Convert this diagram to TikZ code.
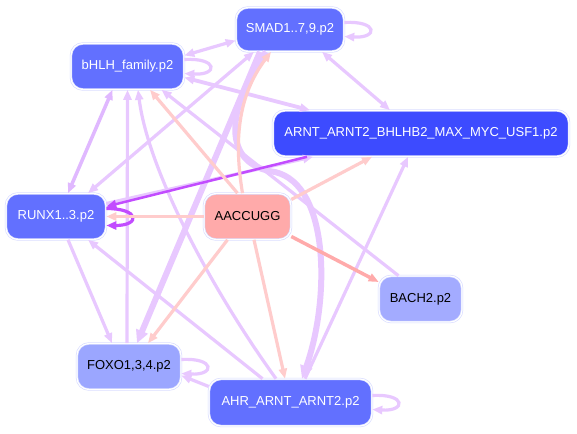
\documentclass[tikz,border=0pt]{standalone}
\usepackage{fontspec}
\setmainfont{Liberation Sans}
\usetikzlibrary{arrows.meta}
\definecolor{tfmid}{HTML}{6270FF}
\definecolor{tfdark}{HTML}{3D4BFF}
\definecolor{tflight}{HTML}{9BA6FF}
\definecolor{tfpale}{HTML}{A3ABFF}
\definecolor{motifc}{HTML}{FFAAAA}
\definecolor{outl}{HTML}{D6DAFF}
\definecolor{lavc}{HTML}{E8C8FF}
\definecolor{lavd}{HTML}{E0B8FF}
\definecolor{pkc}{HTML}{FFCCCC}
\definecolor{pkd}{HTML}{FFAAAA}
\definecolor{purc}{HTML}{C24CFF}

\begin{document}
\begin{tikzpicture}[x=1pt,y=-1pt,
    every node/.style={font=\fontsize{13}{15}\selectfont, inner sep=0pt},
    >={Triangle[length=10pt,width=8pt]},
    tf/.style={rounded corners=12pt, fill=#1, draw=outl, double=white, double distance=1.2pt, line width=0.6pt},
    lav/.style={draw=lavc, line width=3.2pt, ->},
    lavb/.style={draw=lavc, line width=3.2pt, <->},
    lavt/.style={draw=lavc, line width=6pt, -{Triangle[length=13pt,width=12pt]}},
    pk/.style={draw=pkc, line width=3.2pt, ->},
    pur/.style={draw=purc, line width=2.5pt, ->}]
    \fill[white] (0,0) rectangle (577,433);
    \useasboundingbox (0,0) rectangle (577,433);
    \node[tf=tfmid, text=white, minimum width=108pt, minimum height=44pt] (smad) at (290,29.5) {SMAD1..7,9.p2};
    \node[tf=tfmid, text=white, minimum width=113pt, minimum height=46pt] (bhlh) at (127.5,66.5) {bHLH\_family.p2};
    \node[tf=tfdark, text=white, minimum width=296pt, minimum height=46pt] (arnt) at (421,133.5) {ARNT\_ARNT2\_BHLHB2\_MAX\_MYC\_USF1.p2};
    \node[tf=tfmid, text=white, minimum width=100pt, minimum height=46pt] (runx) at (56,216.5) {RUNX1..3.p2};
    \node[tf=motifc, minimum width=87pt, minimum height=46pt] (motif) at (247.5,216.5) {AACCUGG};
    \node[tf=tfpale, minimum width=83pt, minimum height=46pt] (bach) at (420.5,299) {BACH2.p2};
    \node[tf=tflight, minimum width=104pt, minimum height=46pt] (foxo) at (129,366.5) {FOXO1,3,4.p2};
    \node[tf=tfmid, text=white, minimum width=163pt, minimum height=47pt] (ahr) at (290.5,402.5) {AHR\_ARNT\_ARNT2.p2};
    % regulator edges between the factors
    \draw[lavb] ([yshift=11pt]bhlh.east) -- ([yshift=-11pt]smad.west);
    \draw[lavb, line width=3.8pt] ([yshift=-11pt]bhlh.east) -- ([xshift=-111pt]arnt.north);
    \draw[lavb] ([xshift=32pt]smad.south) -- ([xshift=-31pt]arnt.north);
    \draw[lavb] ([xshift=-36pt]smad.south) -- ([xshift=32pt]runx.north);
    \draw[lavb, draw=lavd, line width=3.5pt] ([xshift=-15pt]bhlh.south) -- ([xshift=12pt]runx.north);
    \draw[lav] ([xshift=-2pt]foxo.north) -- (bhlh.south);
    \draw[lavt] ([xshift=-30pt]smad.south) -- ([xshift=8pt]foxo.north);
    \draw[lav] ([xshift=-14.5pt]ahr.north) .. controls +(-65,-90) and +(10,80) .. ([xshift=10.5pt]bhlh.south);
    \draw[lav] ([xshift=-22pt]bach.north) -- ([xshift=34pt]bhlh.south);
    \draw[lav] ([xshift=-28pt]ahr.north) -- ([xshift=32pt]runx.south);
    \draw[lav] ([xshift=12pt]runx.south) -- ([xshift=-17pt]foxo.north);
    \draw[lav] ([yshift=16pt]ahr.west) -- ([yshift=-9pt]foxo.east);
    \draw[lav] ([xshift=14.5pt]ahr.north) -- ([xshift=-13pt]arnt.south);
    \draw[lavt] ([xshift=-24pt]smad.south) .. controls (225,110) and (222,165) .. (275,172)
        .. controls (330,185) and (330,300) .. ([xshift=11.5pt]ahr.north);
    \draw[lav] ([yshift=13pt]runx.east) -- ([xshift=-108pt]arnt.south);
    \draw[pur] ([xshift=-114pt]arnt.south) -- ([yshift=10pt]runx.east);
    \draw[pur, line width=3.2pt] ([yshift=8pt]runx.east) .. controls +(34,0) and +(34,0) .. ([yshift=-9pt]runx.east);
    \foreach \n in {bhlh,smad,foxo,ahr}
        \draw[lav] ([yshift=7pt]\n.east) .. controls +(34,-2) and +(34,2) .. ([yshift=-7pt]\n.east);
    % motif edges
    \draw[pk] ([xshift=-5pt]motif.north) .. controls +(-10,-60) and +(-30,40) .. ([xshift=-19pt]smad.south);
    \draw[pk] ([xshift=-10pt]motif.north) -- ([xshift=22.5pt]bhlh.south);
    \draw[pk] (motif.west) -- (runx.east);
    \draw[pk] ([yshift=17pt]motif.east) -- ([xshift=-49pt]arnt.south);
    \draw[pk, draw=pkd, line width=3.5pt] ([yshift=-20pt]motif.east) -- ([yshift=17pt]bach.west);
    \draw[pk] ([xshift=-20pt]motif.south) -- ([xshift=19pt]foxo.north);
    \draw[pk] ([xshift=6.5pt]motif.south) -- ([xshift=-5.5pt]ahr.north);
\end{tikzpicture}
\end{document}
